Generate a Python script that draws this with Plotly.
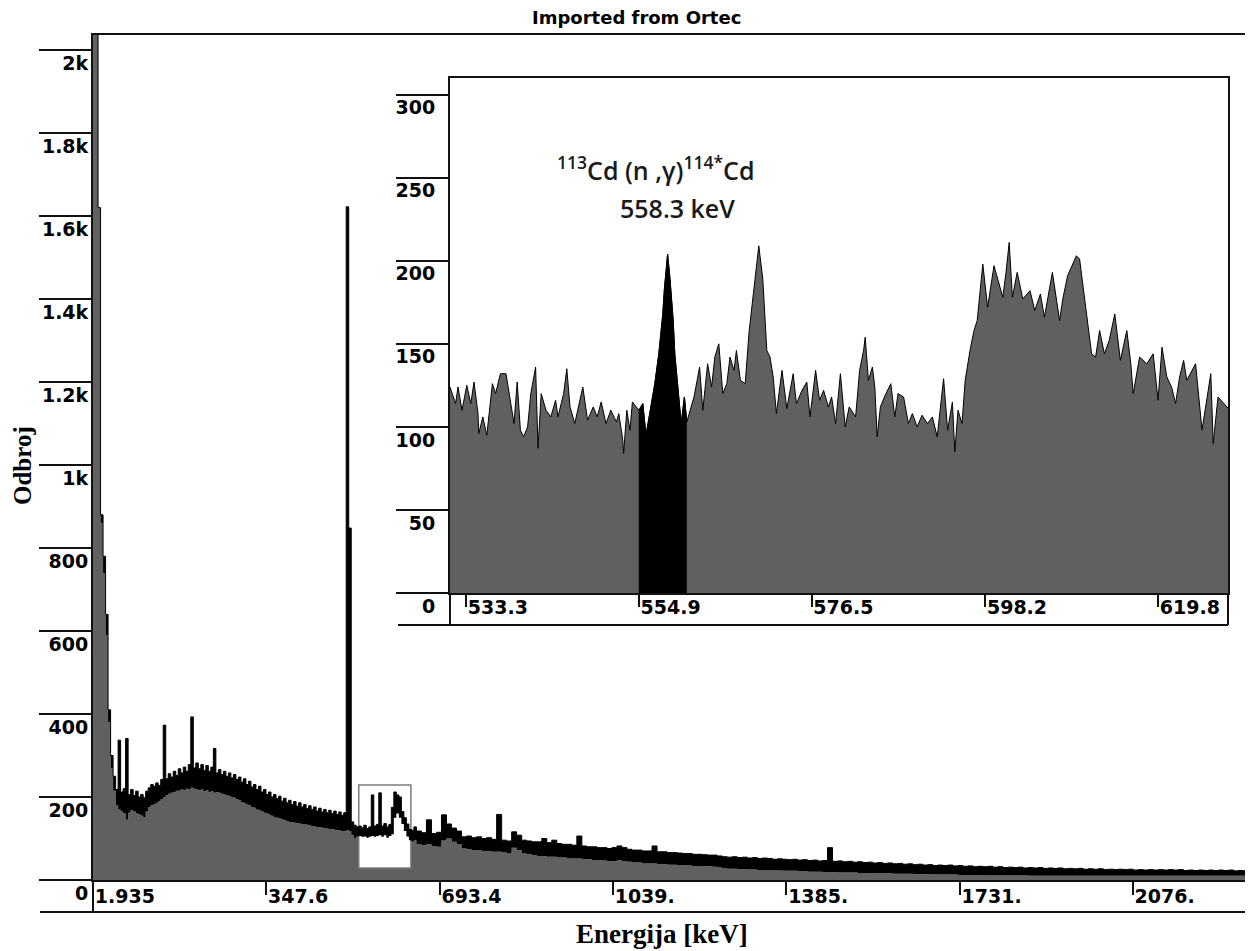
import plotly.graph_objects as go

# ---------------- data ----------------
# Main spectrum: upper / lower edge of the noisy black band, in counts.
# Segment A: bins every 5 keV starting at 2 keV
main_e0_a, main_step_a = 2.0, 5.0
main_upper_a = [
    2050, 2050, 1620, 880, 780, 640, 410, 300, 250, 218,
    337, 212, 220, 341, 206, 218, 204, 214, 200, 206,
    198, 214, 222, 230, 226, 234, 228, 242, 373, 244,
    256, 248, 262, 252, 268, 258, 272, 262, 278, 393,
    270, 282, 268, 278, 264, 276, 262, 272, 317, 258,
    266, 254, 262, 250, 258, 246, 254, 242, 248, 236,
    244, 230, 238, 224, 230, 218, 226, 212, 218, 206,
    212, 200, 206, 196, 202, 190, 197, 186, 192, 182,
    189, 178, 186, 176, 182, 172, 179, 170, 176, 166,
    173, 164, 170, 162, 168, 160, 166, 158, 164, 156,
    162, 1622, 848, 140, 132, 128, 130, 126, 132, 124,
    128, 205, 130, 134, 210, 130, 136, 128, 134, 175,
    212, 205, 200, 165, 150, 135, 122, 120, 128,
]
main_lower_a = [
    2050, 2050, 1620, 860, 740, 590, 380, 270, 215, 180,
    170, 165, 160, 145, 162, 168, 165, 160, 158, 155,
    152, 165, 175, 180, 182, 186, 190, 195, 200, 205,
    208, 210, 212, 215, 215, 218, 216, 220, 218, 222,
    220, 218, 216, 218, 214, 216, 212, 214, 210, 212,
    210, 208, 206, 204, 202, 200, 198, 195, 192, 188,
    185, 182, 180, 176, 174, 170, 168, 165, 162, 160,
    157, 155, 152, 150, 148, 146, 144, 142, 140, 139,
    138, 137, 136, 135, 134, 133, 132, 130, 129, 128,
    127, 126, 125, 124, 123, 122, 121, 120, 119, 118,
    118, 120, 118, 108, 100, 104, 106, 104, 105, 102,
    104, 106, 104, 106, 108, 104, 108, 102, 106, 110,
    150, 160, 150, 135, 118, 105, 96, 92, 95,
]
# Segment B: bins every 10 keV starting at 647 keV
main_e0_b, main_step_b = 647.0, 10.0
main_upper_b = [
    118, 114, 145, 112, 115, 157, 135, 125, 118, 104,
    106, 102, 104, 100, 102, 98, 158, 96, 94, 116,
    108, 96, 94, 92, 92, 100, 90, 96, 88, 86,
    86, 84, 106, 82, 80, 80, 78, 78, 76, 78,
    82, 78, 74, 72, 72, 70, 70, 82, 68, 68,
    66, 66, 65, 64, 64, 62, 62, 61, 60, 60,
    58, 56, 55, 56, 54, 55, 53, 54, 52, 53,
    52, 50, 51, 50, 49, 50, 48, 49, 47, 48,
    46, 47, 78, 45, 46, 44, 45, 43, 44, 42,
    43, 41, 42, 40, 41, 39, 40, 38, 39, 37,
    38, 36, 37, 35, 36, 35, 36, 34, 35, 33,
    34, 32, 33, 32, 33, 31, 32, 30, 31, 30,
    31, 29, 30, 29, 30, 28, 29, 28, 29, 27,
    28, 27, 28, 26, 27, 26, 27, 25, 26, 25,
    26, 25, 26, 24, 25, 24, 25, 24, 25, 24,
    25, 24, 25, 23, 24, 23, 24, 23, 24, 23,
    24, 23, 24, 22, 23, 22, 23, 22,
]
main_lower_b = [
    86, 84, 86, 82, 80, 95, 100, 92, 86, 76,
    74, 72, 72, 70, 70, 68, 68, 66, 64, 78,
    72, 64, 62, 60, 58, 58, 56, 56, 54, 54,
    52, 52, 52, 50, 50, 48, 48, 47, 46, 46,
    48, 46, 44, 42, 42, 40, 40, 40, 38, 38,
    37, 37, 36, 36, 35, 34, 34, 33, 33, 32,
    30, 28, 27, 27, 26, 26, 25, 25, 24, 24,
    24, 23, 23, 22, 22, 22, 21, 21, 20, 20,
    20, 19, 19, 19, 18, 18, 18, 18, 17, 17,
    17, 16, 16, 16, 16, 15, 15, 15, 15, 14,
    14, 14, 14, 13, 13, 13, 13, 13, 12, 12,
    12, 12, 12, 12, 11, 11, 11, 11, 11, 11,
    11, 11, 10, 10, 10, 10, 10, 10, 10, 10,
    10, 10, 10, 10, 10, 10, 10, 10, 10, 10,
    10, 10, 10, 10, 10, 10, 10, 10, 10, 10,
    10, 10, 10, 10, 10, 10, 10, 10, 10, 10,
    10, 10, 10, 10, 10, 10, 10, 10,
]

# Inset (zoomed region) spectrum
inset_energy = [
    531.3, 532.0, 532.3, 532.8, 533.4, 533.9, 534.3, 534.8, 534.9, 535.4,
    535.9, 536.6, 537.0, 537.6, 538.3, 538.9, 539.3, 539.7, 540.1, 540.5,
    541.0, 541.4, 542.0, 542.3, 542.7, 543.3, 543.9, 544.5, 544.8, 545.5,
    545.9, 546.3, 546.9, 547.9, 548.5, 549.2, 549.7, 550.2, 550.8, 551.4,
    552.1, 552.4, 552.9, 553.0, 553.4, 553.8, 554.1, 554.9, 555.4, 555.8,
    556.3, 556.9, 557.4, 557.9, 558.1, 558.5, 558.8, 559.2, 559.4, 559.8,
    560.2, 560.6, 560.9, 561.8, 562.5, 562.9, 563.5, 564.0, 564.4, 564.9,
    565.4, 565.9, 566.3, 566.8, 567.1, 567.6, 568.2, 568.7, 569.3, 569.9,
    570.4, 570.9, 571.3, 571.7, 572.1, 572.8, 573.4, 574.2, 574.6, 575.3,
    575.9, 576.3, 577.0, 577.5, 578.0, 578.6, 579.0, 579.5, 580.1, 580.7,
    581.2, 582.0, 582.5, 583.0, 583.2, 583.6, 584.1, 584.4, 584.7, 585.1,
    585.6, 586.4, 586.9, 587.3, 588.0, 588.6, 589.1, 589.7, 590.3, 591.0,
    591.6, 592.2, 593.0, 593.5, 594.1, 594.4, 594.8, 595.3, 595.7, 596.3,
    596.8, 597.2, 597.9, 598.5, 599.3, 600.4, 600.8, 601.2, 601.6, 602.2,
    602.9, 603.8, 604.4, 605.1, 605.6, 606.6, 607.5, 607.9, 608.5, 609.6,
    610.0, 610.8, 611.5, 612.0, 612.5, 613.1, 613.7, 614.4, 615.1, 615.9,
    616.4, 616.7, 617.5, 618.4, 619.2, 619.8, 620.3, 620.9, 621.5, 622.0,
    622.5, 623.0, 623.4, 624.5, 625.0, 625.3, 626.4, 626.7, 627.3, 628.0,
    628.8, 629.2,
]
inset_counts = [
    124, 114, 124, 110, 125, 114, 127, 108, 96, 106,
    95, 126, 120, 132, 132, 115, 102, 127, 98, 94,
    100, 120, 136, 87, 120, 110, 106, 116, 106, 120,
    135, 112, 102, 124, 104, 112, 106, 115, 102, 110,
    103, 108, 92, 84, 110, 98, 115, 110, 114, 95,
    108, 126, 144, 168, 183, 204, 189, 164, 144, 124,
    102, 118, 103, 118, 136, 110, 138, 124, 142, 150,
    120, 126, 142, 134, 146, 128, 126, 158, 183, 209,
    189, 146, 142, 130, 108, 134, 111, 132, 114, 122,
    127, 106, 134, 116, 122, 112, 118, 102, 132, 100,
    112, 106, 134, 146, 154, 128, 136, 124, 94, 112,
    118, 126, 106, 120, 118, 102, 108, 100, 107, 102,
    106, 94, 129, 98, 115, 85, 110, 102, 128, 146,
    158, 164, 198, 172, 197, 178, 193, 211, 178, 193,
    177, 182, 170, 180, 166, 193, 164, 177, 191, 203,
    201, 172, 144, 142, 158, 144, 152, 168, 140, 158,
    138, 120, 142, 138, 144, 116, 148, 130, 124, 114,
    130, 140, 128, 138, 112, 98, 132, 90, 118, 114,
    110, 109,
]

roi_keV = [554.9, 560.9]          # 558.3 keV peak region (black)
box_keV = [532.0, 636.0]          # zoom marker on the main spectrum
box_counts = [29, 229]

main_xticks = [1.935, 347.6, 693.4, 1039.0, 1385.0, 1731.0, 2076.0]
main_xtick_text = ["1.935", "347.6", "693.4", "1039.", "1385.", "1731.", "2076."]
main_yticks = [0, 200, 400, 600, 800, 1000, 1200, 1400, 1600, 1800, 2000]
main_ytick_text = ["0", "200", "400", "600", "800", "1k", "1.2k", "1.4k", "1.6k", "1.8k", "2k"]
inset_xticks = [533.3, 554.9, 576.5, 598.2, 619.8]
inset_xtick_text = ["533.3", "554.9", "576.5", "598.2", "619.8"]
inset_yticks = [0, 50, 100, 150, 200, 250, 300]

main_xrange = [1.935, 2315.7]
main_yrange = [0, 2036]
inset_xrange = [531.3, 628.55]
inset_yrange = [0, 310]

# ---------------- figure ----------------
assert len(main_upper_a) == len(main_lower_a)
assert len(main_upper_b) == len(main_lower_b)
assert len(inset_energy) == len(inset_counts)

main_energy = ([main_e0_a + main_step_a * i for i in range(len(main_upper_a))] +
               [main_e0_b + main_step_b * i for i in range(len(main_upper_b))])
main_upper = main_upper_a + main_upper_b
main_lower = main_lower_a + main_lower_b

GRAY = "#606060"
INK = "#111111"

fig = go.Figure()

# gray body of the spectrum
fig.add_trace(go.Scatter(x=main_energy, y=main_lower, mode="lines",
                         line=dict(width=0, shape="hv"), fill="tozeroy",
                         fillcolor=GRAY, hoverinfo="skip", showlegend=False))
# zoom marker box (white inside)
bx = [box_keV[0], box_keV[1], box_keV[1], box_keV[0], box_keV[0]]
by = [box_counts[0], box_counts[0], box_counts[1], box_counts[1], box_counts[0]]
fig.add_trace(go.Scatter(x=bx, y=by, mode="lines", fill="toself", fillcolor="white",
                         line=dict(color="#7a7a7a", width=1.5),
                         hoverinfo="skip", showlegend=False))
# black noise band
fig.add_trace(go.Scatter(x=main_energy, y=main_lower, mode="lines",
                         line=dict(width=0, shape="hv"),
                         hoverinfo="skip", showlegend=False))
fig.add_trace(go.Scatter(x=main_energy, y=main_upper, mode="lines",
                         line=dict(color="black", width=1, shape="hv"),
                         fill="tonexty", fillcolor="black",
                         hoverinfo="skip", showlegend=False))

# inset spectrum
fig.add_trace(go.Scatter(x=inset_energy, y=inset_counts, xaxis="x2", yaxis="y2",
                         mode="lines", line=dict(color="black", width=1),
                         fill="tozeroy", fillcolor=GRAY,
                         hoverinfo="skip", showlegend=False))
roi_e = [e for e in inset_energy if roi_keV[0] <= e <= roi_keV[1]]
roi_c = [c for e, c in zip(inset_energy, inset_counts) if roi_keV[0] <= e <= roi_keV[1]]
fig.add_trace(go.Scatter(x=roi_e, y=roi_c, xaxis="x2", yaxis="y2",
                         mode="lines", line=dict(color="black", width=1),
                         fill="tozeroy", fillcolor="black",
                         hoverinfo="skip", showlegend=False))

tick_font = dict(family="DejaVu Sans", size=19, color="black", weight="bold")

# The page body adds an 8 px margin, so lay out in screen pixels minus 8.
OFF = 8
W, H = 1253 - OFF, 951 - OFF
ML, MR, MT = 93 - OFF, 0, 35 - OFF
PLOT_BOTTOM = 880 - OFF
MB = H - PLOT_BOTTOM
PW, PH = W - ML - MR, PLOT_BOTTOM - MT


def px_x(px):
    return (px - OFF - ML) / PW


def px_y(py):
    return (PLOT_BOTTOM - (py - OFF)) / PH


fig.update_layout(
    width=W, height=H,
    margin=dict(l=ML, r=MR, t=MT, b=MB, pad=0),
    paper_bgcolor="white", plot_bgcolor="white",
    showlegend=False,
    xaxis=dict(range=main_xrange, domain=[0, 1], tickmode="array",
               tickvals=main_xticks, ticktext=main_xtick_text,
               ticks="outside", ticklen=13, tickwidth=1.5, tickcolor=INK,
               showline=True, linewidth=2, linecolor=INK, mirror=True,
               showgrid=False, zeroline=False, tickfont=tick_font,
               ticklabelposition="outside right", ticklabelstandoff=-2),
    yaxis=dict(range=main_yrange, domain=[0, 1], tickmode="array",
               tickvals=main_yticks, ticktext=main_ytick_text,
               ticks="outside", ticklen=52, tickwidth=1.5, tickcolor=INK,
               showline=True, linewidth=2, linecolor=INK,
               showgrid=False, zeroline=False, tickfont=tick_font,
               ticklabelstandoff=-53, ticklabelshift=13),
    xaxis2=dict(range=inset_xrange, domain=[px_x(450), px_x(1228)], anchor="y2",
                tickmode="array", tickvals=inset_xticks, ticktext=inset_xtick_text,
                ticks="outside", ticklen=12, tickwidth=1.5, tickcolor=INK,
                showline=True, linewidth=2, linecolor=INK, mirror=True,
                showgrid=False, zeroline=False, tickfont=tick_font,
                ticklabelposition="outside right", ticklabelstandoff=-4),
    yaxis2=dict(range=inset_yrange, domain=[px_y(593), px_y(78)], anchor="x2",
                tickmode="array", tickvals=inset_yticks,
                ticks="outside", ticklen=52, tickwidth=1.5, tickcolor=INK,
                showline=True, linewidth=2, linecolor=INK, mirror=True,
                showgrid=False, zeroline=False, tickfont=tick_font,
                ticklabelstandoff=-43, ticklabelshift=13),
)

line_style = dict(color=INK, width=2)
fig.add_shape(type="line", xref="paper", yref="paper",
              x0=0, x1=0, y0=0, y1=px_y(912), line=line_style)
fig.add_shape(type="line", xref="paper", yref="paper",
              x0=px_x(40), x1=1, y0=px_y(912), y1=px_y(912), line=line_style)
fig.add_shape(type="line", xref="paper", yref="paper",
              x0=px_x(450), x1=px_x(450), y0=px_y(593), y1=px_y(625), line=line_style)
fig.add_shape(type="line", xref="paper", yref="paper",
              x0=px_x(1228), x1=px_x(1228), y0=px_y(593), y1=px_y(625), line=line_style)
fig.add_shape(type="line", xref="paper", yref="paper",
              x0=px_x(398), x1=px_x(1228), y0=px_y(625), y1=px_y(625), line=line_style)

fig.add_annotation(text="Imported from Ortec", xref="paper", yref="paper",
                   x=px_x(636), y=px_y(17), xanchor="center", yanchor="middle",
                   showarrow=False,
                   font=dict(family="DejaVu Sans", size=18, color="black", weight="bold"))
fig.add_annotation(text="Odbroj", xref="paper", yref="paper",
                   x=px_x(22), y=px_y(466), xanchor="center", yanchor="middle",
                   textangle=-90, showarrow=False,
                   font=dict(family="Liberation Serif", size=25, color="black", weight="bold"))
fig.add_annotation(text="Energija [keV]", xref="paper", yref="paper",
                   x=px_x(662), y=px_y(934), xanchor="center", yanchor="middle",
                   showarrow=False,
                   font=dict(family="Liberation Serif", size=27, color="black", weight="bold"))
fig.add_annotation(text="<sup>113</sup>Cd (n ,γ)<sup>114*</sup>Cd", xref="paper", yref="paper",
                   x=px_x(655), y=px_y(168), xanchor="center", yanchor="middle",
                   showarrow=False,
                   font=dict(family="Open Sans", size=25, color="#1a1a1a", weight=600))
fig.add_annotation(text="558.3 keV", xref="paper", yref="paper",
                   x=px_x(677), y=px_y(208), xanchor="center", yanchor="middle",
                   showarrow=False,
                   font=dict(family="Open Sans", size=25, color="#1a1a1a", weight=600))

fig.write_html("out.html")
